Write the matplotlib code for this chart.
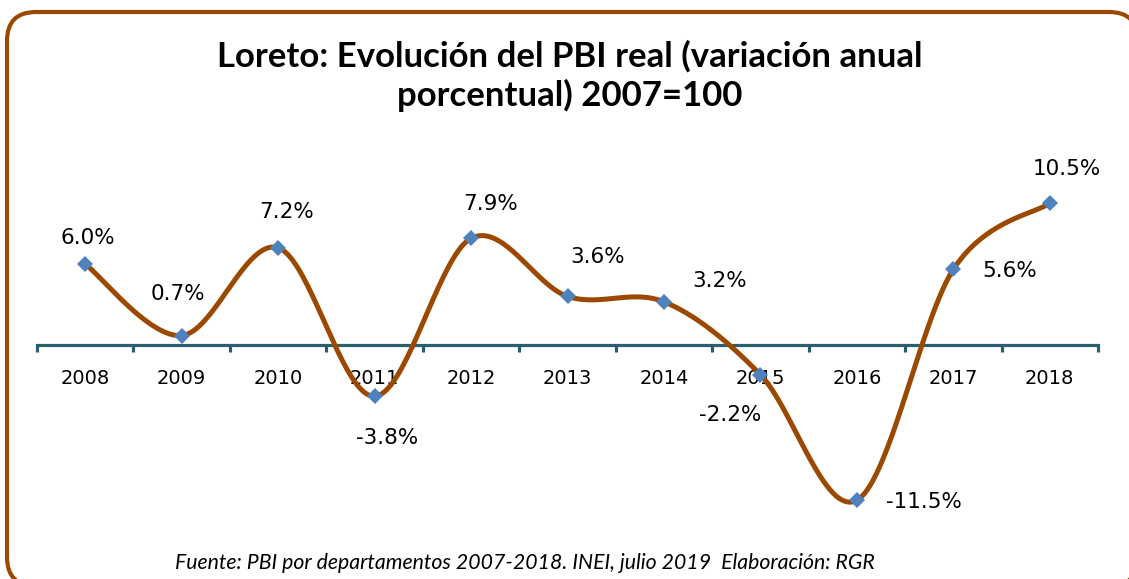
import numpy as np
import matplotlib.pyplot as plt
from matplotlib.patches import FancyBboxPatch

years = ['2008', '2009', '2010', '2011', '2012', '2013', '2014', '2015', '2016', '2017', '2018']
growth = [6.0, 0.7, 7.2, -3.8, 7.9, 3.6, 3.2, -2.2, -11.5, 5.6, 10.5]
labels = ['6.0%', '0.7%', '7.2%', '-3.8%', '7.9%', '3.6%', '3.2%', '-2.2%', '-11.5%', '5.6%', '10.5%']

# label offsets in pixels (dx, dy)
offsets = [(3, 26), (-4, 42), (8, 36), (13, -42), (20, 34), (30, 39),
           (56, 21), (-30, -40), (67, -2), (56, -2), (17, 34)]

brown = '#9B4900'
blue = '#4F81BD'
axcol = '#2B5F6E'


def smooth(x, y, n=40):
    # excel-like smoothed line (catmull-rom bezier)
    x = np.asarray(x, float); y = np.asarray(y, float)
    px = np.concatenate([[x[0]], x, [x[-1]]])
    py = np.concatenate([[y[0]], y, [y[-1]]])
    xs, ys = [], []
    t = np.linspace(0, 1, n)
    for i in range(1, len(px) - 2):
        p0 = np.array([px[i], py[i]]); p3 = np.array([px[i + 1], py[i + 1]])
        c1 = p0 + (p3 - np.array([px[i - 1], py[i - 1]])) / 6
        c2 = p3 - (np.array([px[i + 2], py[i + 2]]) - p0) / 6
        b = ((1 - t) ** 3)[:, None] * p0 + (3 * (1 - t) ** 2 * t)[:, None] * c1 \
            + (3 * (1 - t) * t ** 2)[:, None] * c2 + (t ** 3)[:, None] * p3
        xs.append(b[:, 0]); ys.append(b[:, 1])
    return np.concatenate(xs), np.concatenate(ys)


fig = plt.figure(figsize=(11.29, 5.79), dpi=100)

# rounded frame (filled so agg does not clip it at the canvas edge)
border = FancyBboxPatch((0.07, -0.07), 11.31, 5.74, boxstyle='round,pad=0,rounding_size=0.29',
                        transform=fig.dpi_scale_trans, fc='white', ec=brown, lw=3, zorder=-1)
fig.add_artist(border)

ax = fig.add_axes([37 / 1129, 1 - 507 / 579, 1061 / 1129, 324 / 579])

x = np.arange(len(years))
sx, sy = smooth(x, growth)
ax.plot(sx, sy, color=brown, lw=3.6, zorder=3, solid_capstyle='round')
ax.plot(x, growth, 'D', color=blue, ms=8, zorder=4, markeredgewidth=0)

for xi, yi, lab, (dx, dy) in zip(x, growth, labels, offsets):
    ax.annotate(lab, (xi, yi), xytext=(dx, dy), textcoords='offset pixels',
                ha='center', va='center', fontsize=15.5, family='DejaVu Sans', zorder=5)

ax.set_xlim(-0.5, len(years) - 0.5)
ax.set_ylim(-12, 12)
for s in ['top', 'right', 'left']:
    ax.spines[s].set_visible(False)
ax.spines['bottom'].set_position(('data', 0))
ax.spines['bottom'].set_color(axcol)
ax.spines['bottom'].set_linewidth(2.3)
ax.spines['bottom'].set_zorder(2)
ax.set_yticks([])
ax.set_xticks(x)
ax.set_xticklabels(years, fontsize=14, family='DejaVu Sans')
ax.tick_params(axis='x', which='major', length=0, pad=17)
ax.set_xticks(np.arange(-0.5, len(years)), minor=True)
ax.tick_params(axis='x', which='minor', length=5, width=2.3, color=axcol, direction='out')
ax.patch.set_alpha(0)

fig.text(0.505, 1 - 76 / 579, 'Loreto: Evolución del PBI real (variación anual\nporcentual) 2007=100',
         ha='center', va='center', fontsize=25, fontweight='bold', family='Lato', linespacing=1.2)
fig.text(0.465, 1 - 563 / 579, 'Fuente: PBI por departamentos 2007-2018. INEI, julio 2019  Elaboración: RGR',
         ha='center', va='center', fontsize=15.3, style='italic', family='Lato')

fig.savefig('out.png', dpi=100)
